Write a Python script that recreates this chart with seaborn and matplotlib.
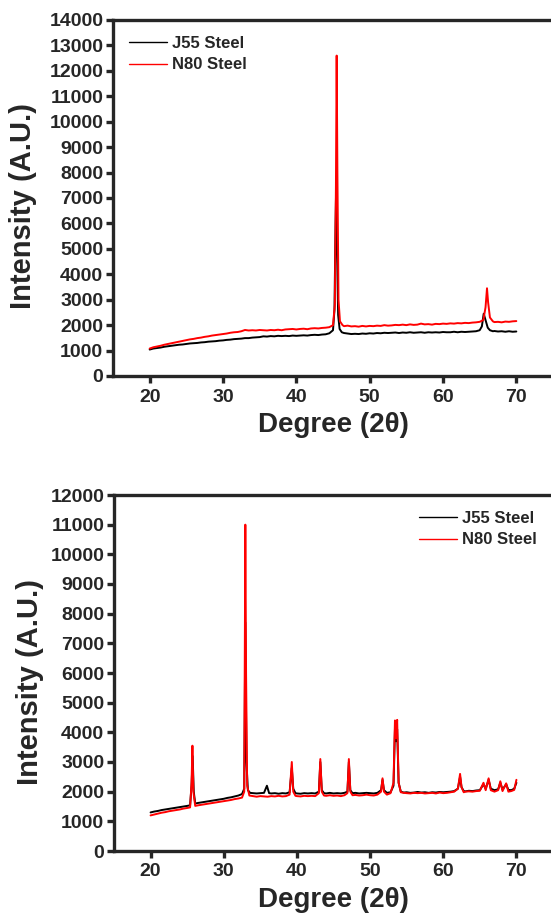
import numpy as np
import pandas as pd
import matplotlib
matplotlib.use("Agg")
import matplotlib.pyplot as plt
import seaborn as sns

# ── Data ────────────────────────────────────────────────────────────────────
SAMPLES = ["J55 Steel", "N80 Steel"]
COLORS = {"J55 Steel": "black", "N80 Steel": "red"}

# top panel, J55
top_j55_x = [20.0, 20.5, 21.0, 21.5, 22.0, 22.5, 23.0, 23.5, 24.0, 24.5, 25.0, 25.5, 26.0, 26.5,
             27.0, 27.5, 28.0, 28.5, 29.0, 29.5, 30.0, 30.5, 31.0, 31.5, 32.0, 32.5, 33.0, 33.5,
             34.0, 34.5, 35.0, 35.5, 36.0, 36.5, 37.0, 37.5, 38.0, 38.5, 39.0, 39.5, 40.0, 40.5,
             41.0, 41.5, 42.0, 42.5, 43.0, 43.5, 44.0, 44.5, 45.0, 45.2, 45.35, 45.45, 45.55, 45.7,
             45.9, 46.2, 46.5, 47.0, 47.5, 48.0, 48.5, 49.0, 49.5, 50.0, 50.5, 51.0, 51.5, 52.0,
             52.5, 53.0, 53.5, 54.0, 54.5, 55.0, 55.5, 56.0, 56.5, 57.0, 57.5, 58.0, 58.5, 59.0,
             59.5, 60.0, 60.5, 61.0, 61.5, 62.0, 62.5, 63.0, 63.5, 64.0, 64.5, 65.0, 65.3, 65.55,
             65.8, 66.1, 66.4, 66.8, 67.0, 67.5, 68.0, 68.5, 69.0, 69.5, 70.0]
top_j55_y = [1040, 1080, 1100, 1120, 1150, 1170, 1190, 1210, 1230, 1240, 1260, 1280, 1290, 1300,
             1320, 1330, 1350, 1360, 1370, 1390, 1400, 1420, 1430, 1450, 1460, 1470, 1490, 1490,
             1510, 1520, 1530, 1560, 1550, 1570, 1560, 1580, 1570, 1580, 1570, 1590, 1580, 1590,
             1600, 1590, 1610, 1620, 1610, 1630, 1640, 1680, 1800, 2600, 6000, 7800, 5000, 2400,
             1850, 1720, 1690, 1670, 1650, 1660, 1650, 1670, 1660, 1680, 1670, 1690, 1680, 1700,
             1690, 1700, 1710, 1690, 1710, 1700, 1720, 1700, 1710, 1720, 1700, 1720, 1710, 1720,
             1710, 1730, 1720, 1720, 1740, 1720, 1740, 1730, 1740, 1750, 1760, 1800, 1950, 2450,
             2200, 1900, 1800, 1760, 1770, 1750, 1760, 1740, 1760, 1740, 1750]

# top panel, N80
top_n80_x = [20.0, 20.5, 21.0, 21.5, 22.0, 22.5, 23.0, 23.5, 24.0, 24.5, 25.0, 25.5, 26.0, 26.5,
             27.0, 27.5, 28.0, 28.5, 29.0, 29.5, 30.0, 30.5, 31.0, 31.5, 32.0, 32.5, 33.0, 33.5,
             34.0, 34.5, 35.0, 35.5, 36.0, 36.5, 37.0, 37.5, 38.0, 38.5, 39.0, 39.5, 40.0, 40.5,
             41.0, 41.5, 42.0, 42.5, 43.0, 43.5, 44.0, 44.5, 45.0, 45.25, 45.4, 45.5, 45.6, 45.75,
             45.95, 46.3, 46.5, 47.0, 47.5, 48.0, 48.5, 49.0, 49.5, 50.0, 50.5, 51.0, 51.5, 52.0,
             52.5, 53.0, 53.5, 54.0, 54.5, 55.0, 55.5, 56.0, 56.5, 57.0, 57.5, 58.0, 58.5, 59.0,
             59.5, 60.0, 60.5, 61.0, 61.5, 62.0, 62.5, 63.0, 63.5, 64.0, 64.5, 65.0, 65.5, 65.8,
             66.0, 66.15, 66.4, 66.8, 67.0, 67.5, 68.0, 68.5, 69.0, 69.5, 70.0]
top_n80_y = [1080, 1130, 1160, 1190, 1230, 1260, 1290, 1320, 1350, 1380, 1410, 1440, 1460, 1490,
             1510, 1540, 1560, 1590, 1610, 1630, 1650, 1670, 1700, 1720, 1730, 1760, 1810, 1790,
             1800, 1790, 1810, 1800, 1790, 1810, 1800, 1820, 1800, 1830, 1840, 1850, 1830, 1850,
             1860, 1840, 1870, 1880, 1870, 1890, 1900, 1920, 2000, 2800, 7500, 12600, 8000, 3000,
             2150, 2000, 1960, 1980, 1950, 1960, 1940, 1970, 1950, 1970, 1960, 1980, 1970, 2000,
             1980, 1990, 2010, 2000, 2020, 2000, 2030, 2010, 2020, 2060, 2030, 2040, 2020, 2050,
             2040, 2060, 2050, 2070, 2060, 2080, 2070, 2090, 2080, 2100, 2110, 2130, 2200, 2700,
             3450, 2900, 2300, 2150, 2120, 2130, 2110, 2140, 2130, 2150, 2160]

# bottom panel, J55
bot_j55_x = [20.0, 20.5, 21.0, 21.5, 22.0, 22.5, 23.0, 23.5, 24.0, 24.5, 25.0, 25.4, 25.6, 25.75,
             25.9, 26.1, 26.5, 27.0, 27.5, 28.0, 28.5, 29.0, 29.5, 30.0, 30.5, 31.0, 31.5, 32.0,
             32.5, 32.8, 32.95, 33.1, 33.3, 33.6, 34.0, 34.5, 35.0, 35.5, 35.9, 36.2, 36.5, 37.0,
             37.5, 38.0, 38.5, 39.0, 39.3, 39.5, 39.8, 40.0, 40.5, 41.0, 41.5, 42.0, 42.5, 43.0,
             43.2, 43.4, 43.7, 44.0, 44.5, 45.0, 45.5, 46.0, 46.5, 46.9, 47.1, 47.3, 47.6, 48.0,
             48.5, 49.0, 49.5, 50.0, 50.5, 51.0, 51.5, 51.7, 51.9, 52.3, 52.8, 53.2, 53.4, 53.55,
             53.7, 53.9, 54.2, 54.6, 55.0, 55.5, 56.0, 56.5, 57.0, 57.5, 58.0, 58.5, 59.0, 59.5,
             60.0, 60.5, 61.0, 61.5, 62.0, 62.3, 62.5, 62.8, 63.0, 63.5, 64.0, 64.5, 65.0, 65.5,
             65.8, 66.2, 66.5, 67.0, 67.5, 67.8, 68.1, 68.6, 68.9, 69.3, 69.7, 70.0]
bot_j55_y = [1300, 1330, 1350, 1380, 1400, 1420, 1440, 1460, 1480, 1500, 1520, 1540, 2200, 3200,
             2000, 1600, 1620, 1640, 1660, 1680, 1700, 1720, 1740, 1760, 1790, 1810, 1840, 1870,
             1920, 2100, 7700, 3000, 2050, 1960, 1950, 1940, 1950, 1960, 2200, 1950, 1940, 1950,
             1930, 1950, 1940, 1980, 2800, 2100, 1950, 1940, 1930, 1950, 1940, 1950, 1940, 2000,
             3000, 2050, 1950, 1940, 1960, 1940, 1950, 1940, 1960, 2000, 3000, 2050, 1950, 1960,
             1940, 1950, 1960, 1950, 1940, 1960, 2050, 2400, 2050, 1960, 1980, 2200, 4100, 3700,
             4100, 2300, 2000, 1970, 1980, 1960, 1970, 1990, 1970, 1980, 1960, 1980, 1970, 1990,
             1980, 1990, 2000, 2020, 2100, 2500, 2150, 2020, 2010, 2030, 2020, 2040, 2050, 2250,
             2100, 2400, 2100, 2050, 2080, 2300, 2070, 2250, 2060, 2050, 2100, 2300]

# bottom panel, N80
bot_n80_x = [20.0, 20.5, 21.0, 21.5, 22.0, 22.5, 23.0, 23.5, 24.0, 24.5, 25.0, 25.4, 25.6, 25.72,
             25.85, 26.1, 26.5, 27.0, 27.5, 28.0, 28.5, 29.0, 29.5, 30.0, 30.5, 31.0, 31.5, 32.0,
             32.5, 32.8, 32.95, 33.05, 33.2, 33.5, 34.0, 34.5, 35.0, 35.5, 36.0, 36.5, 37.0, 37.5,
             38.0, 38.5, 39.0, 39.3, 39.5, 39.8, 40.0, 40.5, 41.0, 41.5, 42.0, 42.5, 43.0, 43.2,
             43.4, 43.7, 44.0, 44.5, 45.0, 45.5, 46.0, 46.5, 46.9, 47.1, 47.3, 47.6, 48.0, 48.5,
             49.0, 49.5, 50.0, 50.5, 51.0, 51.5, 51.7, 51.9, 52.3, 52.8, 53.2, 53.4, 53.55, 53.7,
             53.9, 54.2, 54.6, 55.0, 55.5, 56.0, 56.5, 57.0, 57.5, 58.0, 58.5, 59.0, 59.5, 60.0,
             60.5, 61.0, 61.5, 62.0, 62.3, 62.5, 62.8, 63.0, 63.5, 64.0, 64.5, 65.0, 65.5, 65.8,
             66.2, 66.5, 67.0, 67.5, 67.8, 68.1, 68.6, 68.9, 69.3, 69.7, 70.0]
bot_n80_y = [1200, 1230, 1260, 1290, 1310, 1340, 1360, 1380, 1400, 1430, 1450, 1470, 2300, 3550,
             2000, 1520, 1540, 1560, 1580, 1600, 1620, 1640, 1660, 1680, 1700, 1720, 1750, 1770,
             1800, 2000, 11000, 6000, 2200, 1870, 1850, 1830, 1850, 1840, 1830, 1850, 1840, 1860,
             1840, 1850, 1900, 3000, 2000, 1860, 1850, 1840, 1860, 1850, 1860, 1850, 1950, 3100,
             2000, 1870, 1860, 1880, 1860, 1870, 1850, 1880, 1950, 3100, 2000, 1880, 1890, 1870,
             1880, 1900, 1880, 1870, 1900, 2000, 2450, 2000, 1900, 1950, 2300, 4400, 3800, 4420,
             2300, 1980, 1960, 1950, 1940, 1960, 1950, 1960, 1940, 1950, 1960, 1940, 1970, 1950,
             1960, 1980, 2000, 2100, 2600, 2150, 1980, 2000, 2010, 2000, 2020, 2030, 2300, 2050,
             2450, 2050, 2000, 2050, 2350, 2020, 2280, 2000, 2020, 2060, 2400]

top_yticks = list(range(0, 14001, 1000))
bot_yticks = list(range(0, 12001, 1000))
xticks = [20, 30, 40, 50, 60, 70]


def make_frame(j_x, j_y, n_x, n_y):
    j = pd.DataFrame({"Degree": j_x, "Intensity": j_y, "Sample": SAMPLES[0]})
    n = pd.DataFrame({"Degree": n_x, "Intensity": n_y, "Sample": SAMPLES[1]})
    return pd.concat([j, n], ignore_index=True)


def style_axes(ax, yticks, legend_loc):
    ax.set_xlim(15, 75)
    ax.set_ylim(0, yticks[-1])
    ax.set_xticks(xticks)
    ax.set_yticks(yticks)
    for side in ["left", "right", "top", "bottom"]:
        ax.spines[side].set_visible(True)
        ax.spines[side].set_linewidth(2.4)
    ax.tick_params(axis="both", direction="out", length=5, width=2.4,
                   labelsize=14, pad=2)
    ax.tick_params(axis="x", pad=4)
    ax.set_xlabel("Degree (2θ)", fontsize=20, fontweight="bold", labelpad=5)
    ax.set_ylabel("Intensity (A.U.)", fontsize=21, fontweight="bold")
    leg = ax.legend(loc=legend_loc, frameon=False, fontsize=12,
                    handlelength=2.3, handletextpad=0.3, labelspacing=0.4,
                    borderpad=0.55, borderaxespad=0.4)
    for line in leg.get_lines():
        line.set_linewidth(1.0)


sns.set_style("ticks")
plt.rcParams["font.family"] = ["Liberation Sans", "DejaVu Sans"]
plt.rcParams["font.weight"] = "bold"

fig = plt.figure(figsize=(5.51, 9.15), dpi=100)
ax1 = fig.add_axes([113 / 551, 539 / 915, 440 / 551, 356 / 915])
ax2 = fig.add_axes([114 / 551, 64 / 915, 439 / 551, 356 / 915])

top = make_frame(top_j55_x, top_j55_y, top_n80_x, top_n80_y)
bot = make_frame(bot_j55_x, bot_j55_y, bot_n80_x, bot_n80_y)

sns.lineplot(data=top, x="Degree", y="Intensity", hue="Sample", palette=COLORS,
             estimator=None, linewidth=1.4, ax=ax1)
sns.lineplot(data=bot, x="Degree", y="Intensity", hue="Sample", palette=COLORS,
             estimator=None, linewidth=1.4, ax=ax2)

style_axes(ax1, top_yticks, "upper left")
style_axes(ax2, bot_yticks, "upper right")
ax1.yaxis.set_label_coords(-0.173, 0.478)
ax2.yaxis.set_label_coords(-0.159, 0.475)

fig.savefig("out.png", dpi=100)
plt.close(fig)
